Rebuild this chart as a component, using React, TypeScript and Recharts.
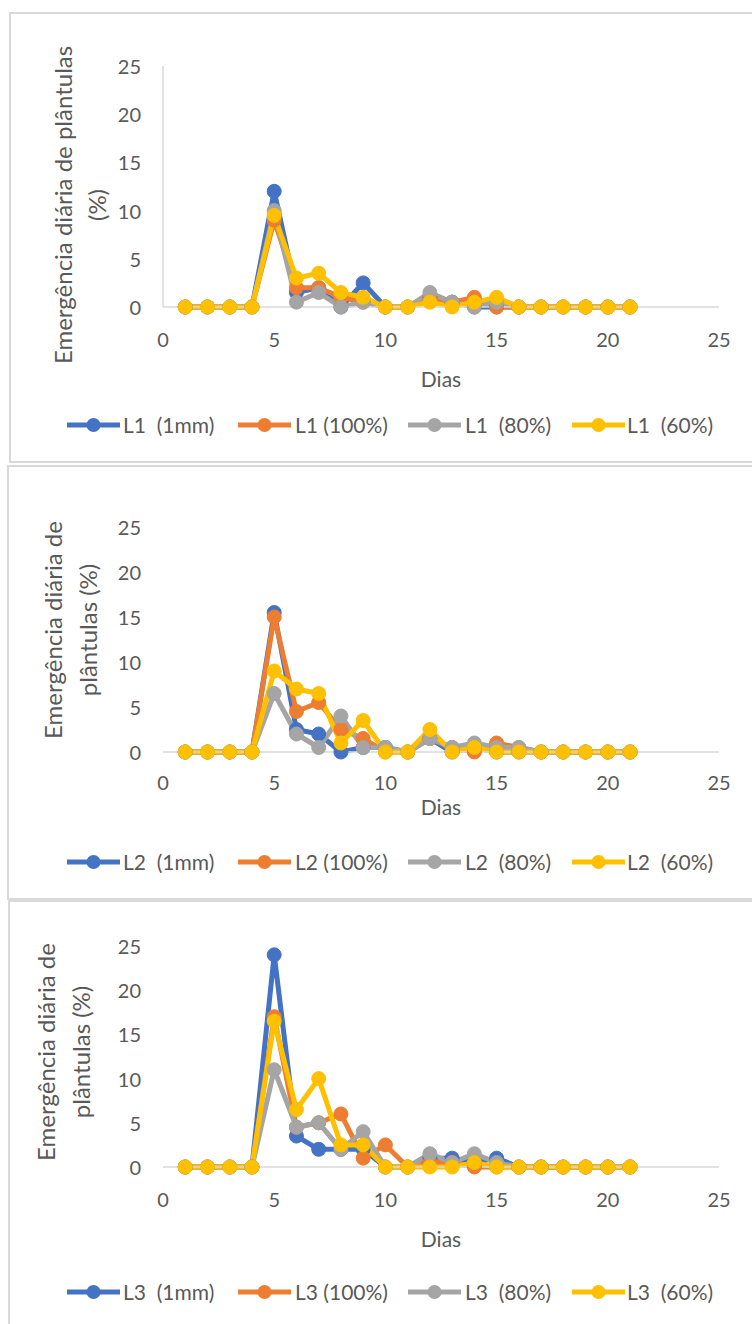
import { LineChart, Line, XAxis, YAxis, Legend } from "recharts"

const days = [1, 2, 3, 4, 5, 6, 7, 8, 9, 10, 11, 12, 13, 14, 15, 16, 17, 18, 19, 20, 21]
const axisTicks = [0, 5, 10, 15, 20, 25]

// L1
const l1Mm = [0, 0, 0, 0, 12, 1.5, 2, 0, 2.5, 0, 0, 1, 0.5, 0, 0, 0, 0, 0, 0, 0, 0]
const l1P100 = [0, 0, 0, 0, 9, 2, 2, 1, 0.5, 0, 0, 1, 0.5, 1, 0, 0, 0, 0, 0, 0, 0]
const l1P80 = [0, 0, 0, 0, 10, 0.5, 1.5, 0, 0.5, 0, 0, 1.5, 0.5, 0, 0.5, 0, 0, 0, 0, 0, 0]
const l1P60 = [0, 0, 0, 0, 9.5, 3, 3.5, 1.5, 1, 0, 0, 0.5, 0, 0.5, 1, 0, 0, 0, 0, 0, 0]

// L2
const l2Mm = [0, 0, 0, 0, 15.5, 2.5, 2, 0, 0.5, 0.5, 0, 1.5, 0, 0.5, 0, 0, 0, 0, 0, 0, 0]
const l2P100 = [0, 0, 0, 0, 15, 4.5, 5.5, 2.5, 1.5, 0, 0, 1.5, 0.5, 0, 1, 0.5, 0, 0, 0, 0, 0]
const l2P80 = [0, 0, 0, 0, 6.5, 2, 0.5, 4, 0.5, 0.5, 0, 1.5, 0.5, 1, 0.5, 0.5, 0, 0, 0, 0, 0]
const l2P60 = [0, 0, 0, 0, 9, 7, 6.5, 1, 3.5, 0, 0, 2.5, 0, 0.5, 0, 0, 0, 0, 0, 0, 0]

// L3
const l3Mm = [0, 0, 0, 0, 24, 3.5, 2, 2, 2, 0, 0, 1, 1, 0.5, 1, 0, 0, 0, 0, 0, 0]
const l3P100 = [0, 0, 0, 0, 17, 4.5, 5, 6, 1, 2.5, 0, 0.5, 0.5, 0, 0, 0, 0, 0, 0, 0, 0]
const l3P80 = [0, 0, 0, 0, 11, 4.5, 5, 2, 4, 0, 0, 1.5, 0.5, 1.5, 0.5, 0, 0, 0, 0, 0, 0]
const l3P60 = [0, 0, 0, 0, 16.5, 6.5, 10, 2.5, 2.5, 0, 0, 0, 0, 0.5, 0, 0, 0, 0, 0, 0, 0]

const suffixes = ["  (1mm)", " (100%)", "  (80%)", "  (60%)"]
const colors = ["#4472C4", "#ED7D31", "#A5A5A5", "#FFC000"]

const FONT = "Lato, 'Open Sans', sans-serif"
const TXT = "#595959"
const GRID = "#d9d9d9"
const LEFT = 163
const RIGHT = 719
const LEG_H = 30
const legendIconX = [66, 237, 407, 571]
const legendTextX = [123, 295, 465, 627]

type PanelCfg = {
  lot: string
  values: number[][]
  top: number
  height: number
  y25: number
  y0: number
  tickY: number
  diasY: number
  legendY: number
  yTitle: string[]
  yTitleX: number[]
  yTitleY: number
  yLine: boolean
}

const panels: PanelCfg[] = [
  {
    lot: "L1", values: [l1Mm, l1P100, l1P80, l1P60],
    top: 12, height: 450, y25: 66, y0: 307, tickY: 339, diasY: 378, legendY: 425,
    yTitle: ["Emergência diária de plântulas", "(%)"], yTitleX: [62, 96], yTitleY: 205, yLine: true
  },
  {
    lot: "L2", values: [l2Mm, l2P100, l2P80, l2P60],
    top: 465, height: 435, y25: 527, y0: 752, tickY: 782, diasY: 806, legendY: 862,
    yTitle: ["Emergência diária de", "plântulas (%)"], yTitleX: [52, 87], yTitleY: 630, yLine: false
  },
  {
    lot: "L3", values: [l3Mm, l3P100, l3P80, l3P60],
    top: 901, height: 423, y25: 946, y0: 1167, tickY: 1199, diasY: 1238, legendY: 1292,
    yTitle: ["Emergência diária de", "plântulas (%)"], yTitleX: [45, 80], yTitleY: 1052, yLine: false
  }
]

function LegendRow({ lot }: { lot: string }) {
  return (
    <div style={{ position: "relative", width: 752, height: LEG_H }}>
      {suffixes.map((s, i) => (
        <div key={s}>
          <svg width={55} height={LEG_H} style={{ position: "absolute", left: legendIconX[i], top: 0 }}>
            <line x1={1} x2={54} y1={15} y2={15} stroke={colors[i]} strokeWidth={5} />
            <circle cx={27.5} cy={15} r={7} fill={colors[i]} />
          </svg>
          <span
            style={{
              position: "absolute", left: legendTextX[i], top: 0, lineHeight: LEG_H + "px",
              fontFamily: FONT, fontSize: 21, color: TXT, whiteSpace: "pre"
            }}
          >
            {lot + s}
          </span>
        </div>
      ))}
    </div>
  )
}

function Panel({ p }: { p: PanelCfg }) {
  const rows = days.map((d, i) => ({
    day: d,
    s0: p.values[0][i],
    s1: p.values[1][i],
    s2: p.values[2][i],
    s3: p.values[3][i]
  }))
  const H = p.height
  const mb = H - (p.legendY - p.top) - LEG_H / 2
  const xAxisH = H - mb - LEG_H - (p.y0 - p.top)
  return (
    <div style={{ position: "absolute", left: 0, top: p.top, width: 752, height: H }}>
      <LineChart width={752} height={H} data={rows}
        margin={{ top: p.y25 - p.top, right: 752 - RIGHT, left: LEFT - 60, bottom: mb }}>
        <XAxis
          dataKey="day" type="number" domain={[0, 25]} ticks={axisTicks} interval={0}
          height={xAxisH} tickLine={false}
          axisLine={{ stroke: GRID, strokeWidth: 1.5 }}
          tick={(t: any) => (
            <text x={t.x} y={p.tickY - p.top} textAnchor="middle" dominantBaseline="central"
              fontFamily={FONT} fontSize={20} fill={TXT}>
              {t.payload.value}
            </text>
          )}
          label={{
            content: () => (
              <text x={(LEFT + RIGHT) / 2} y={p.diasY - p.top} textAnchor="middle" dominantBaseline="central"
                fontFamily={FONT} fontSize={21} fill={TXT}>
                Dias
              </text>
            )
          }}
        />
        <YAxis
          type="number" domain={[0, 25]} ticks={axisTicks} interval={0} width={60}
          tickLine={false}
          axisLine={p.yLine ? { stroke: GRID, strokeWidth: 1.5 } : false}
          tick={(t: any) => (
            <text x={LEFT - 22} y={t.y} textAnchor="end" dominantBaseline="central"
              fontFamily={FONT} fontSize={20} fill={TXT}>
              {t.payload.value}
            </text>
          )}
          label={{
            content: () => (
              <g>
                {p.yTitle.map((s, i) => (
                  <text key={s} x={p.yTitleX[i]} y={p.yTitleY - p.top}
                    transform={`rotate(-90, ${p.yTitleX[i]}, ${p.yTitleY - p.top})`}
                    textAnchor="middle" dominantBaseline="central"
                    fontFamily={FONT} fontSize={24} fill={TXT}>
                    {s}
                  </text>
                ))}
              </g>
            )
          }}
        />
        <Legend verticalAlign="bottom" wrapperStyle={{ left: 0, width: 752 }}
          content={() => <LegendRow lot={p.lot} />} />
        {colors.map((c, i) => (
          <Line key={c} type="linear" dataKey={"s" + i} name={p.lot + suffixes[i]}
            stroke={c} strokeWidth={5} strokeLinejoin="round"
            dot={{ r: 7, fill: c, stroke: c, strokeWidth: 1 }}
            activeDot={false} isAnimationActive={false} />
        ))}
      </LineChart>
    </div>
  )
}

export default function App() {
  return (
    <div style={{ position: "absolute", left: 0, top: 0, width: 752, height: 1324, overflow: "hidden", background: "#fff" }}>
      <div style={{ position: "absolute", left: 9, top: 12, width: 760, height: 451, border: `2px solid ${GRID}`, boxSizing: "border-box" }} />
      <div style={{ position: "absolute", left: 7, top: 465, width: 760, height: 435, border: `2px solid ${GRID}`, boxSizing: "border-box" }} />
      <div style={{ position: "absolute", left: 8, top: 900, width: 760, height: 440, border: `2px solid ${GRID}`, boxSizing: "border-box" }} />
      {panels.map(p => <Panel key={p.lot} p={p} />)}
    </div>
  )
}
